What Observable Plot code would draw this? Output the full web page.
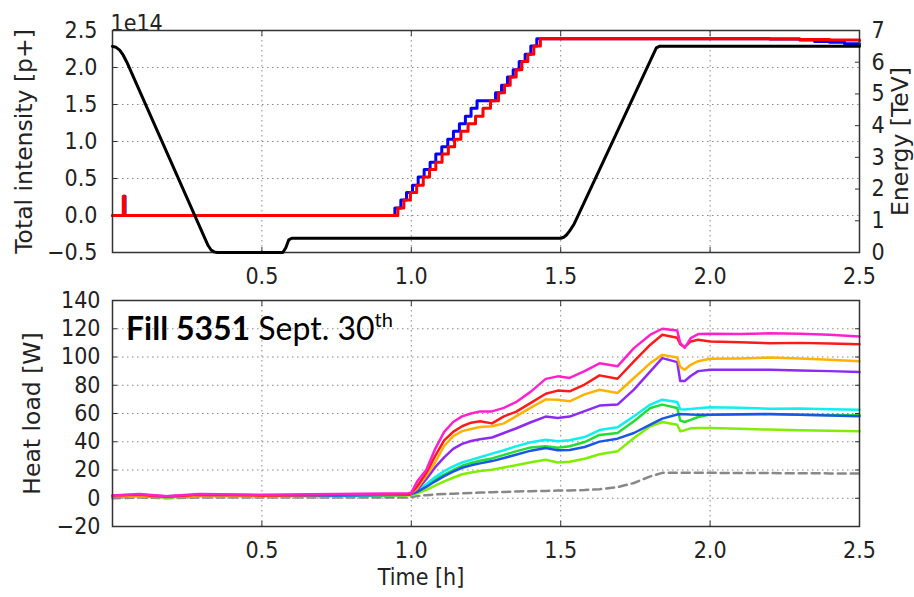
<!DOCTYPE html>
<html><head><meta charset="utf-8">
<script src="https://cdn.jsdelivr.net/npm/d3@7"></script>
<script src="https://cdn.jsdelivr.net/npm/@observablehq/plot@0.6"></script>
<style>
body{margin:0;background:#fff;}
#wrap{position:relative;width:914px;height:597px;overflow:hidden;background:#fff;}
#wrap svg{position:absolute;left:0;top:0;}
#note{position:absolute;left:126px;top:312px;font-family:Lato,"Open Sans",sans-serif;font-size:32px;line-height:1;color:#000;white-space:nowrap;}
#note b{font-weight:700;}
#note sup{font-size:20px;vertical-align:0;position:relative;top:-13px;}
</style></head><body><div id="wrap"><div id="note"></div></div>
<script>
// ---------- tick labels / text ----------
const timeTicks = [0.5, 1.0, 1.5, 2.0, 2.5];
const intensityTicks = [-0.5, 0.0, 0.5, 1.0, 1.5, 2.0, 2.5];
const energyTicks = [0, 1, 2, 3, 4, 5, 6, 7];
const heatTicks = [-20, 0, 20, 40, 60, 80, 100, 120, 140];
const intensityLabel = ["Total intensity [p+]"];
const energyLabel = ["Energy [TeV]"];
const heatLabel = ["Heat load [W]"];
const timeLabel = ["Time [h]"];
const offsetLabel = ["1e14"];
const noteBold = "Fill 5351";
const noteText = " Sept. 30";
const noteSup = "th";

// ---------- top panel: beam intensity (1e14 p+) ----------
const b1Time = [0, 0.038, 0.042, 0.945, 0.965, 0.984, 1.004, 1.023, 1.043, 1.063, 1.082, 1.102, 1.122, 1.141, 1.161, 1.181, 1.200, 1.220, 1.282, 1.302, 1.322, 1.341, 1.361, 1.381, 1.400, 1.420, 2.2, 2.3, 2.35, 2.4, 2.45, 2.5];
const b1Int  = [0, 0.26, 0, 0.10, 0.21, 0.31, 0.41, 0.52, 0.62, 0.72, 0.83, 0.93, 1.03, 1.14, 1.24, 1.34, 1.45, 1.55, 1.66, 1.76, 1.87, 1.97, 2.08, 2.18, 2.29, 2.39, 2.385, 2.37, 2.35, 2.34, 2.32, 2.31];
const b2Time = [0, 0.036, 0.040, 0.955, 0.975, 0.997, 1.018, 1.040, 1.061, 1.082, 1.103, 1.124, 1.145, 1.166, 1.190, 1.215, 1.240, 1.265, 1.292, 1.312, 1.331, 1.351, 1.370, 1.390, 1.410, 1.432, 2.0, 2.2, 2.3, 2.4, 2.5];
const b2Int  = [0, 0.26, 0, 0.10, 0.21, 0.31, 0.41, 0.52, 0.62, 0.72, 0.83, 0.93, 1.03, 1.14, 1.24, 1.34, 1.45, 1.55, 1.66, 1.76, 1.87, 1.97, 2.08, 2.18, 2.29, 2.39, 2.39, 2.385, 2.38, 2.37, 2.36];

// ---------- top panel: beam energy (TeV) ----------
const energyTime = [0, 0.012, 0.024, 0.036, 0.048, 0.32, 0.33, 0.34, 0.35, 0.57, 0.58, 0.59, 0.6, 1.5, 1.51, 1.52, 1.53, 1.545, 1.56, 1.82, 1.83, 2.5];
const energyTeV  = [6.5, 6.47, 6.38, 6.22, 6.0, 0.22, 0.08, 0.02, 0, 0, 0.15, 0.4, 0.45, 0.45, 0.48, 0.56, 0.68, 0.9, 1.2, 6.45, 6.5, 6.5];

// ---------- bottom panel: heat load (W) ----------
const heatTime     = [0, 0.09, 0.18, 0.29, 0.5, 0.75, 0.99, 1.0, 1.02, 1.05, 1.08, 1.11, 1.14, 1.17, 1.2, 1.23, 1.27, 1.31, 1.35, 1.40, 1.45, 1.49, 1.53, 1.58, 1.63, 1.69, 1.745, 1.80, 1.84, 1.89, 1.90, 1.915, 1.935, 1.96, 2.0, 2.1, 2.2, 2.3, 2.4, 2.5];
const heatMagenta  = [2, 3, 1.5, 3, 2.5, 3, 3.5, 4, 12, 20, 35, 47, 54, 58, 60, 61.5, 61.5, 64, 68, 75.5, 84.5, 86.3, 85.2, 90, 95.5, 93.4, 106.3, 115.8, 120, 118.8, 110, 106.5, 113.4, 116.2, 116.5, 116.2, 116.8, 116.5, 115.8, 114.6];
const heatRed      = [2, 2.5, 1, 2.5, 2, 2.5, 3, 3.5, 8.5, 18, 30, 41, 47, 51, 53.5, 54.5, 53, 58, 61.2, 67.5, 74, 76.2, 75.7, 80.5, 87, 84.6, 96.9, 108.7, 115.8, 113.6, 109, 107, 111, 112.2, 111, 110.5, 109.8, 110, 109.5, 109.1];
const heatOrange   = [1.5, 2, 1, 2, 2, 2.5, 3, 3.5, 7, 16, 25.5, 37, 44, 47.5, 49, 50.5, 51, 53, 58, 64.2, 70, 69.8, 68.6, 73.5, 76.8, 74.5, 85.1, 95.7, 101.5, 99.7, 93, 91, 94.5, 97, 98.8, 99, 99.6, 99, 98, 97];
const heatPurple   = [1.5, 2.5, 1.5, 2.5, 2, 2.5, 3, 3.5, 6, 13.5, 22, 29, 35, 38.5, 40.5, 41.8, 43, 46.2, 49.4, 53.8, 57.8, 56.8, 57.8, 61.7, 65.6, 66.3, 76.9, 89.8, 99.2, 96.4, 83, 83, 86.5, 90, 91, 91, 91, 90.5, 90, 89.3];
const heatCyan     = [1.5, 2, 1, 2, 2, 2, 2.5, 3, 5, 10, 15, 19.2, 22.5, 25.3, 27.2, 29, 31.6, 34, 36.7, 39.6, 41.4, 40.4, 41, 43.3, 48.3, 50.2, 58, 66.3, 69.8, 68.1, 63, 62.8, 63.2, 63.8, 64.4, 64, 63.4, 63.5, 63, 62.7];
const heatGreen    = [1.5, 2, 1, 2, 2, 2, 2.5, 3, 5, 9.2, 13.5, 16.8, 20, 23, 25, 26.6, 28.2, 30.7, 33.2, 36, 36.8, 35.8, 36.8, 39.8, 44.8, 46.2, 54.5, 63.9, 66.3, 63.9, 55, 54, 55.5, 57.5, 59.2, 59.3, 59.4, 59.2, 59, 58.8];
const heatBlue     = [1.5, 2, 1, 2, 2, 2, 2.5, 3, 4.5, 8, 12, 15.7, 18.8, 21.6, 23.3, 24.7, 26.3, 28.5, 30.8, 33.7, 35.5, 34, 34.2, 36.3, 40.1, 42.2, 46.2, 52.1, 56.4, 59.3, 59.6, 59.5, 59.3, 59.2, 59.2, 59.5, 59.6, 59.2, 58.6, 58];
const heatLime     = [1, 1.5, 0.5, 1.5, 1.5, 1.5, 2, 2.5, 3.5, 6, 9, 12, 14.5, 17, 18.3, 19.3, 20.2, 21.8, 23.4, 25.5, 27.2, 25.3, 25.8, 28, 31.2, 33.2, 42.6, 50.9, 54, 52.1, 47.5, 48.2, 49.5, 49.7, 49.7, 49.2, 48.6, 48.2, 47.8, 47.4];
const heatModel    = [0, 0.5, 0, 0.5, 0.5, 0.5, 0.5, 0.8, 1.5, 2.2, 2.7, 3, 3.2, 3.5, 3.8, 4, 4.3, 4.5, 4.8, 5, 5.2, 5.4, 5.5, 5.8, 6.4, 7.8, 10.8, 15.5, 18, 18, 18, 18, 18, 18, 18, 17.9, 17.8, 17.7, 17.6, 17.5];

const heatSeries = [
  {v: heatLime, color: "#7fee00"},
  {v: heatGreen, color: "#22dd33"},
  {v: heatCyan, color: "#11eeee"},
  {v: heatBlue, color: "#1a56e8"},
  {v: heatPurple, color: "#8e2bf0"},
  {v: heatOrange, color: "#ffb300"},
  {v: heatRed, color: "#ff1a1a"},
  {v: heatMagenta, color: "#ff22cc"}
];

// ---------- build tables ----------
const pairs = (ts, vs) => ts.map((t, i) => ({t, v: vs[i]}));
const b1 = pairs(b1Time, b1Int);
const b2 = pairs(b2Time, b2Int);
const energy = pairs(energyTime, energyTeV);
const model = pairs(heatTime, heatModel);

const W = 914, H = 597;
const FONT = "'DejaVu Sans Condensed','DejaVu Sans',sans-serif";
const baseStyle = {fontFamily: FONT, fontSize: "23px", color: "#222", background: "transparent", overflow: "visible"};
const gridStyle = {stroke: "#888", strokeOpacity: 1, strokeWidth: 1, strokeDasharray: "1.5,3.5"};
const fmt1 = d3.format(".1f");
const rotLabel = {rotate: -90, textAnchor: "middle", lineAnchor: "middle", fontFamily: "'DejaVu Sans',sans-serif", fontSize: 23.5, fill: "#222"};

// top panel (intensity)
const topMargins = {marginTop: 30, marginBottom: H - 252, marginLeft: 112, marginRight: W - 859};
const plotTop = Plot.plot({
  width: W, height: H, ...topMargins, style: baseStyle,
  x: {domain: [0, 2.5]},
  y: {domain: [-0.5, 2.5]},
  marks: [
    Plot.gridX(timeTicks.filter(d => d < 2.5), gridStyle),
    Plot.gridY(intensityTicks.filter(d => d > -0.5 && d < 2.5), gridStyle),
    Plot.axisX(timeTicks, {tickSize: -5, tickPadding: 20, tickFormat: fmt1, label: null, stroke: "#333"}),
    Plot.axisX(timeTicks, {anchor: "top", tickSize: -5, tickFormat: () => "", label: null, stroke: "#333"}),
    Plot.axisY(intensityTicks, {tickSize: -5, tickPadding: 20, tickFormat: fmt1, label: null, stroke: "#333"}),
    Plot.line(b1, {x: "t", y: "v", curve: "step-after", stroke: "#0000ff", strokeWidth: 3}),
    Plot.line(b2, {x: "t", y: "v", curve: "step-after", stroke: "#ff0000", strokeWidth: 3}),
    Plot.text(intensityLabel, {frameAnchor: "left", dx: -88, ...rotLabel}),
    Plot.text(offsetLabel, {frameAnchor: "top-left", textAnchor: "start", dx: -2, dy: -16, fill: "#222"}),
    Plot.frame({stroke: "#333", strokeWidth: 1.5})
  ]
});

// top panel twin (energy)
const plotEnergy = Plot.plot({
  width: W, height: H, ...topMargins, style: baseStyle,
  x: {domain: [0, 2.5], axis: null},
  y: {domain: [0, 7], axis: null},
  marks: [
    Plot.axisY(energyTicks, {anchor: "right", tickSize: -5, tickPadding: 17, label: null, stroke: "#333"}),
    Plot.line(energy, {x: "t", y: "v", stroke: "#000", strokeWidth: 3}),
    Plot.text(energyLabel, {frameAnchor: "right", dx: 41, ...rotLabel})
  ]
});

// bottom panel (heat load)
const plotHeat = Plot.plot({
  width: W, height: H, marginTop: 300, marginBottom: H - 526, marginLeft: 112, marginRight: W - 859, style: baseStyle,
  x: {domain: [0, 2.5]},
  y: {domain: [-20, 140]},
  marks: [
    Plot.gridX(timeTicks.filter(d => d < 2.5), gridStyle),
    Plot.gridY(heatTicks.filter(d => d > -20 && d < 140), gridStyle),
    Plot.axisX(timeTicks, {tickSize: -5, tickPadding: 20, tickFormat: fmt1, label: null, stroke: "#333"}),
    Plot.axisX(timeTicks, {anchor: "top", tickSize: -5, tickFormat: () => "", label: null, stroke: "#333"}),
    Plot.axisY(heatTicks, {tickSize: -5, tickPadding: 17, label: null, stroke: "#333"}),
    Plot.axisY(heatTicks, {anchor: "right", tickSize: -5, tickFormat: () => "", label: null, stroke: "#333"}),
    Plot.line(model, {x: "t", y: "v", stroke: "#888", strokeWidth: 2.5, strokeDasharray: "8,5"}),
    ...heatSeries.map(s => Plot.line(pairs(heatTime, s.v), {x: "t", y: "v", stroke: s.color, strokeWidth: 2.5})),
    Plot.text(heatLabel, {frameAnchor: "left", dx: -80, ...rotLabel}),
    Plot.text(timeLabel, {frameAnchor: "bottom", dx: -65, dy: 58, fill: "#222"}),
    Plot.frame({stroke: "#333", strokeWidth: 1.5})
  ]
});

const wrap = document.getElementById("wrap");
wrap.insertBefore(plotHeat, wrap.firstChild);
wrap.insertBefore(plotEnergy, wrap.firstChild);
wrap.insertBefore(plotTop, wrap.firstChild);
const note = document.getElementById("note");
const b = document.createElement("b"); b.textContent = noteBold;
const sp = document.createElement("span"); sp.textContent = noteText;
const su = document.createElement("sup"); su.textContent = noteSup;
note.append(b, sp, su);
</script></body></html>
